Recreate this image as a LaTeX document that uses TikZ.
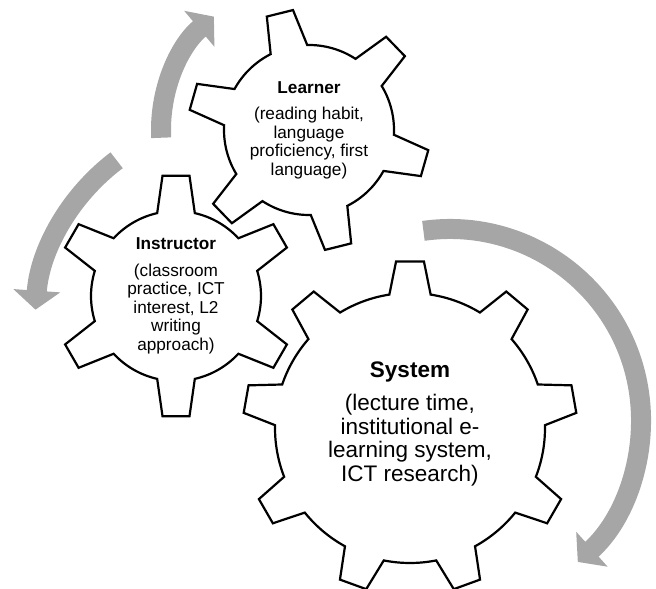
\documentclass[tikz,border=0pt]{standalone}
\usepackage{fontspec}
\setmainfont{Liberation Sans}
\usetikzlibrary{arrows.meta}

\definecolor{arrowgray}{RGB}{166,166,166}

% centre, teeth, tip radius, root radius, first tooth angle, half tip angle, half root angle
\newcommand{\cog}[7]{%
  \draw[cogline,shift={(#1)}] ({#5-#7}:#4)
    \foreach \k in {1,...,#2}{
      -- ({#5+(\k-1)*360/#2-#6}:#3) -- ({#5+(\k-1)*360/#2+#6}:#3)
      -- ({#5+(\k-1)*360/#2+#7}:#4)
      arc[start angle={#5+(\k-1)*360/#2+#7}, end angle={#5+\k*360/#2-#7}, radius=#4]
    } -- cycle;
}

\begin{document}
\begin{tikzpicture}[x=1pt,y=1pt,
  cogline/.style={draw=black,line width=2.2pt,fill=white,line join=miter},
  cycarrow/.style={draw=arrowgray,line width=20pt,-{Triangle[length=19pt,width=46pt]}},
  smalltext/.style={align=center,font=\fontsize{17.2}{18.5}\selectfont},
  bigtext/.style={align=center,font=\fontsize{22.5}{23.4}\selectfont}]
\useasboundingbox (0,0) rectangle (656,589);

\coordinate (lcog) at (309,459);
\coordinate (icog) at (176,293);
\coordinate (scog) at (410,161);
\coordinate (iarc) at (240,265);
\coordinate (sarc) at (450,169);

% turning arrows
\draw[cycarrow] ([shift={(183:148pt)}]lcog) arc[start angle=183,end angle=130,radius=148pt];
\draw[cycarrow] ([shift={(127:205pt)}]iarc) arc[start angle=127,end angle=176,radius=205pt];
\draw[cycarrow] ([shift={(98:191pt)}]sarc) arc[start angle=98,end angle=-48,radius=191pt];

% gears
\cog{lcog}{6}{121pt}{85pt}{104}{6.4}{12.8}
\cog{icog}{6}{121pt}{85pt}{90}{6.4}{12.8}
\cog{scog}{9}{167pt}{135pt}{90}{4.8}{8.8}

% labels
\node[smalltext] (learner) at (lcog) {\textbf{Learner}\\[8pt](reading habit,\\language\\proficiency, first\\language)};
\node[smalltext] (instructor) at (icog) {\textbf{Instructor}\\[8pt](classroom\\practice, ICT\\interest, L2\\writing\\approach)};
\node[bigtext] (system) at (410,165) {\textbf{System}\\[9.6pt](lecture time,\\institutional e-\\learning system,\\ICT research)};
\end{tikzpicture}
\end{document}
